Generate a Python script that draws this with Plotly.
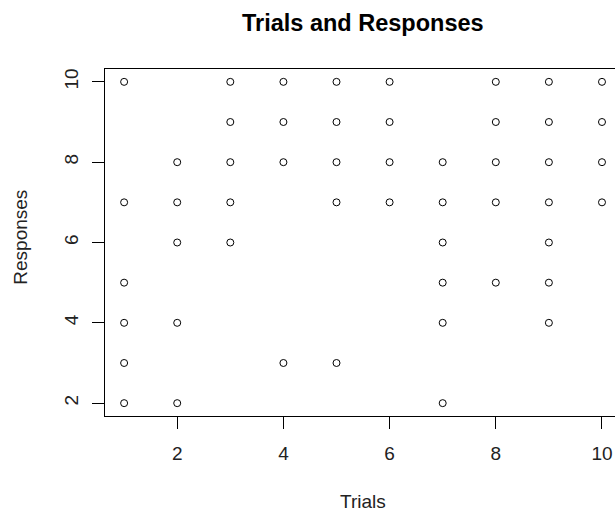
import plotly.graph_objects as go

# Data (Trials vs Responses)
trials = [1, 1, 1, 1, 1, 1,
          2, 2, 2, 2, 2,
          3, 3, 3, 3, 3,
          4, 4, 4, 4,
          5, 5, 5, 5, 5,
          6, 6, 6, 6,
          7, 7, 7, 7, 7, 7,
          8, 8, 8, 8, 8,
          9, 9, 9, 9, 9, 9, 9,
          10, 10, 10, 10]
responses = [10, 7, 5, 4, 3, 2,
             8, 7, 6, 4, 2,
             10, 9, 8, 7, 6,
             10, 9, 8, 3,
             10, 9, 8, 7, 3,
             10, 9, 8, 7,
             8, 7, 6, 5, 4, 2,
             10, 9, 8, 7, 5,
             10, 9, 8, 7, 6, 5, 4,
             10, 9, 8, 7]
x_ticks = [2, 4, 6, 8, 10]
y_ticks = [2, 4, 6, 8, 10]

W, H = 615, 513
L, T, B = 104.5, 69, 97.3
FONT = "Liberation Sans, Arial, sans-serif"

fig = go.Figure()
fig.add_trace(go.Scatter(
    x=trials, y=responses, mode="markers",
    marker=dict(symbol="circle-open", size=7, color="black",
                line=dict(width=1, color="black")),
    showlegend=False, hoverinfo="skip",
))

fig.update_layout(
    width=W, height=H,
    margin=dict(l=L, r=0, t=T, b=B, pad=0),
    paper_bgcolor="white", plot_bgcolor="white",
    font=dict(family=FONT, size=19, color="black"),
    xaxis=dict(range=[0.64, 10.245], tickvals=x_ticks, ticks="outside",
               ticklen=12, tickwidth=1, tickcolor="black",
               showline=True, linecolor="black", linewidth=1, mirror=True,
               showgrid=False, zeroline=False, ticklabelstandoff=8,
               tickfont=dict(size=19, color="#222")),
    yaxis=dict(range=[1.68, 10.32], tickvals=y_ticks, ticks="outside",
               ticklen=12, tickwidth=1, tickcolor="black",
               showline=True, linecolor="black", linewidth=1, mirror=False,
               showgrid=False, zeroline=False, tickangle=-90,
               ticklabelstandoff=6, tickfont=dict(size=19, color="#222")),
    annotations=[
        dict(text="<b>Trials and Responses</b>", xref="paper", yref="paper",
             x=0.505, y=1 + (69 - 23) / 346.7, xanchor="center", yanchor="middle",
             showarrow=False, font=dict(size=23.5, family=FONT, color="black")),
        dict(text="Trials", xref="paper", yref="paper",
             x=0.505, y=-(501 - 415.7) / 346.7, xanchor="center", yanchor="middle",
             showarrow=False, font=dict(size=19, family=FONT, color="#222")),
        dict(text="Responses", xref="paper", yref="paper",
             x=(20 - 104.5) / 510.5, y=(415.7 - 237) / 346.7, xanchor="center",
             yanchor="middle", textangle=-90,
             showarrow=False, font=dict(size=19, family=FONT, color="#222")),
    ],
)

fig.write_html("out.html")
